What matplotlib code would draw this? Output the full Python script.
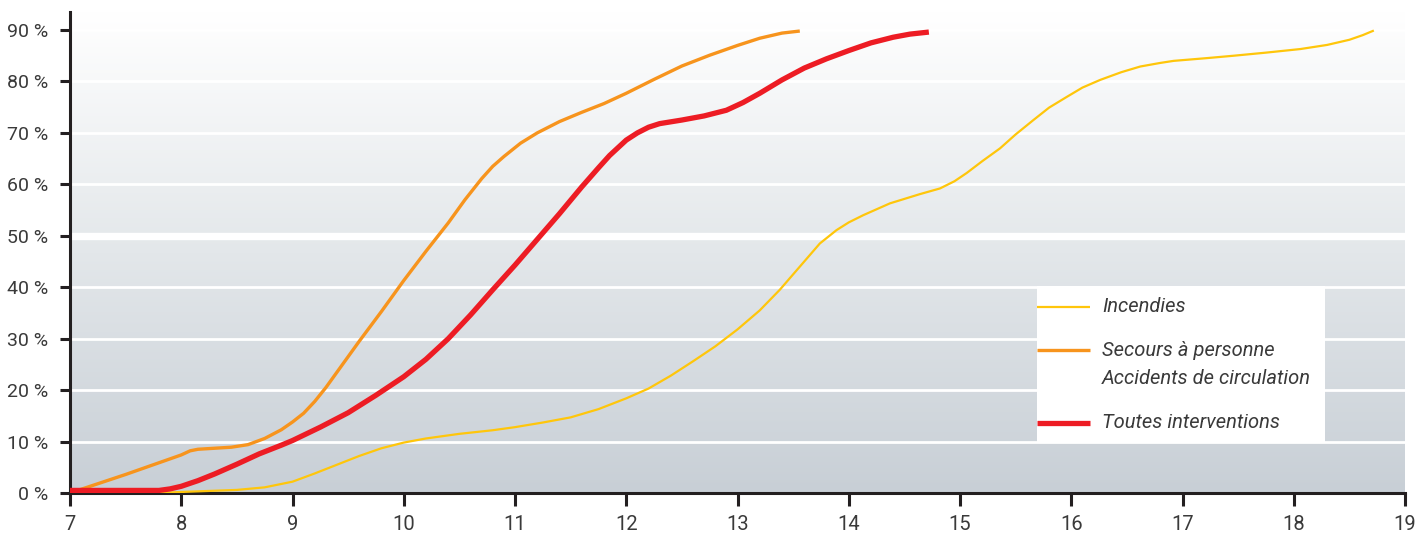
import matplotlib
matplotlib.use("Agg")
import matplotlib.pyplot as plt
import numpy as np
from matplotlib.colors import LinearSegmentedColormap
from matplotlib.patches import Rectangle
from matplotlib.lines import Line2D

# ---- data ----
secours_x = [7, 7.5, 8.0, 8.08, 8.15, 8.3, 8.45, 8.6, 8.75, 8.9, 9.0, 9.1, 9.2, 9.3, 9.4,
             9.6, 9.8, 10.0, 10.2, 10.4, 10.55, 10.7, 10.8, 10.9, 11.05, 11.2, 11.4, 11.6,
             11.8, 12.0, 12.25, 12.5, 12.75, 13.0, 13.2, 13.4, 13.56]
secours_y = [0, 3.6, 7.4, 8.2, 8.5, 8.7, 8.9, 9.4, 10.6, 12.3, 13.8, 15.5, 17.8, 20.5, 23.5,
             29.5, 35.3, 41.3, 47.0, 52.5, 57.0, 61.1, 63.5, 65.4, 68.0, 70.0, 72.2, 74.0,
             75.7, 77.7, 80.4, 83.0, 85.1, 87.0, 88.4, 89.4, 89.8]

toutes_x = [7, 7.8, 7.9, 8.0, 8.15, 8.3, 8.5, 8.7, 8.9, 9.0, 9.25, 9.5, 9.75, 10.0, 10.2,
            10.4, 10.6, 10.8, 11.0, 11.2, 11.4, 11.6, 11.75, 11.85, 12.0, 12.1, 12.2, 12.3,
            12.5, 12.7, 12.9, 13.05, 13.2, 13.4, 13.6, 13.8, 14.0, 14.2, 14.4, 14.55, 14.72]
toutes_y = [0.5, 0.5, 0.8, 1.3, 2.4, 3.7, 5.6, 7.6, 9.3, 10.2, 12.8, 15.6, 19.0, 22.6, 26.0,
            30.0, 34.6, 39.5, 44.3, 49.3, 54.3, 59.5, 63.2, 65.6, 68.6, 70.0, 71.1, 71.8,
            72.5, 73.3, 74.4, 75.9, 77.7, 80.3, 82.6, 84.4, 86.0, 87.5, 88.6, 89.2, 89.6]

incendies_x = [7, 7.8, 8.0, 8.5, 8.75, 9.0, 9.2, 9.4, 9.6, 9.8, 10.0, 10.2, 10.5, 10.8, 11.0,
               11.25, 11.5, 11.75, 12.0, 12.2, 12.4, 12.6, 12.8, 13.0, 13.2, 13.38, 13.56,
               13.74, 13.89, 14.0, 14.13, 14.37, 14.64, 14.82, 14.95, 15.06, 15.2, 15.36,
               15.5, 15.66, 15.8, 15.96, 16.1, 16.26, 16.45, 16.62, 16.8, 16.92, 17.2,
               17.46, 17.75, 18.06, 18.3, 18.5, 18.62, 18.72]
incendies_y = [0, 0, 0.2, 0.6, 1.1, 2.2, 3.8, 5.5, 7.2, 8.7, 9.8, 10.6, 11.5, 12.2, 12.8,
               13.7, 14.7, 16.3, 18.4, 20.3, 22.8, 25.6, 28.5, 31.8, 35.5, 39.5, 44.0,
               48.5, 51.1, 52.6, 54.0, 56.3, 58.1, 59.2, 60.6, 62.2, 64.5, 67.0,
               69.7, 72.5, 74.9, 77.0, 78.8, 80.3, 81.8, 82.9, 83.6, 84.0, 84.5,
               85.0, 85.6, 86.3, 87.1, 88.1, 89.0, 89.9]

x_ticks = list(range(7, 20))
y_ticks = list(range(0, 100, 10))
y_labels = [f"{v} %" for v in y_ticks]
legend_labels = ["Incendies", "Secours à personne\nAccidents de circulation", "Toutes interventions"]

# ---- styling ----
FONT = ['Roboto', 'DejaVu Sans']
plt.rcParams['font.family'] = FONT
C_YEL = '#FFC60B'
C_ORA = '#F7941D'
C_RED = '#ED1C24'
C_AX = '#231F20'
C_TXT = '#3a3a3a'

W, H = 1416, 540
fig = plt.figure(figsize=(W / 100, H / 100), dpi=100)
ax = fig.add_axes([70 / W, 47 / H, 1335 / W, 481 / H])

XMIN, XMAX, YMIN, YMAX = 7, 19, 0, 93.5

# gradient background
cmap = LinearSegmentedColormap.from_list('bg', ['#C8CFD6', '#E3E7EA', '#FFFFFF'])
grad = np.linspace(0, 1, 256).reshape(-1, 1)
ax.imshow(grad, extent=[XMIN, XMAX, YMIN, YMAX], origin='lower', aspect='auto',
          cmap=cmap, zorder=0, interpolation='bicubic')

# white gridlines
for v in y_ticks[1:]:
    ax.axhline(v, color='white', lw=5.3 if v == 50 else 2.0, zorder=1)

# legend box
ax.add_patch(Rectangle((0.724, 0.104), 0.216, 0.326, transform=ax.transAxes,
                       facecolor='white', edgecolor='none', zorder=2))

ax.plot(incendies_x, incendies_y, color=C_YEL, lw=1.6, zorder=4, solid_capstyle='butt',
        solid_joinstyle='round')
ax.plot(secours_x, secours_y, color=C_ORA, lw=2.4, zorder=4, solid_capstyle='butt',
        solid_joinstyle='round')
ax.plot(toutes_x, toutes_y, color=C_RED, lw=3.8, zorder=5, solid_capstyle='butt',
        solid_joinstyle='round')

# legend entries
handles = [(C_YEL, 1.6, 0.387), (C_ORA, 2.4, 0.297), (C_RED, 3.8, 0.146)]
text_rows = [[0.387], [0.297, 0.239], [0.146]]
for (c, lw, ly), lab, rows in zip(handles, legend_labels, text_rows):
    ax.add_line(Line2D([0.7245, 0.764], [ly, ly], transform=ax.transAxes, color=c,
                       lw=lw, zorder=3, solid_capstyle='butt'))
    for line, ty in zip(lab.split('\n'), rows):
        ax.text(0.773, ty, line, transform=ax.transAxes, ha='left', va='center',
                fontsize=14.5, style='italic', color=C_TXT, zorder=3)

ax.set_xlim(XMIN, XMAX)
ax.set_ylim(YMIN, YMAX)
ax.set_xticks(x_ticks)
ax.set_xticklabels([str(v) for v in x_ticks])
ax.set_yticks(y_ticks)
ax.set_yticklabels(y_labels)

for s in ['top', 'right']:
    ax.spines[s].set_visible(False)
for s in ['left', 'bottom']:
    ax.spines[s].set_color(C_AX)
    ax.spines[s].set_linewidth(2.2)
    ax.spines[s].set_zorder(3)

ax.tick_params(axis='y', direction='out', length=7.5, width=2.2, color=C_AX,
               labelsize=14, labelcolor=C_TXT, pad=8)
ax.tick_params(axis='x', direction='out', length=9, width=2.2, color=C_AX,
               labelsize=14.5, labelcolor=C_TXT, pad=7)
ax.grid(False)

fig.savefig('out.png', dpi=100)
